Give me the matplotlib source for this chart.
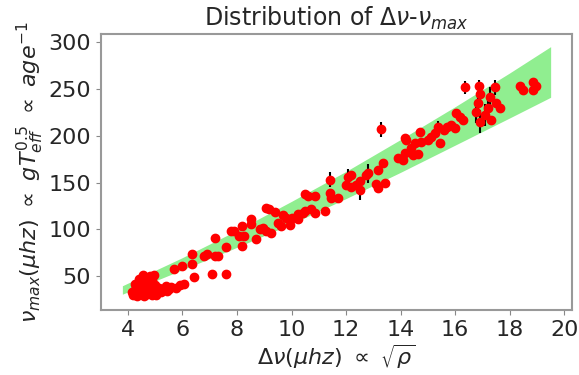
import matplotlib.pyplot as plt

# expected band
band_x = [3.8, 6, 8, 10, 12, 14, 16, 18, 19.5]
band_lo = [31, 57, 81, 106, 133, 161, 190, 219, 241]
band_hi = [40, 70, 99, 130, 162, 196, 231, 267, 295]

# measured stars: delta nu, nu_max and nu_max error
dnu = [
    4.15, 4.20, 4.25, 4.30, 4.30, 4.35, 4.40, 4.40, 4.45, 4.50,
    4.50, 4.55, 4.60, 4.60, 4.65, 4.70, 4.70, 4.75, 4.80, 4.80,
    4.85, 4.90, 4.95, 5.00, 5.00, 5.05, 4.40, 4.55, 4.25, 4.90,
    5.15, 5.30, 5.40, 5.50, 5.60, 5.75, 5.90, 6.05, 5.20, 5.45,
    5.68, 5.97, 6.34, 6.34, 6.41, 6.78, 6.90, 7.07, 7.20, 7.30,
    7.60, 7.20, 7.60, 7.77, 7.88, 8.17, 8.06, 8.24, 8.17, 8.53,
    8.53, 8.68, 8.86, 8.97, 9.08, 9.23, 9.08, 9.16, 9.41, 9.52,
    9.63, 9.70, 9.80, 9.96, 10.25, 10.43, 10.50,
    10.00, 10.25, 10.50, 10.73, 10.87, 11.24, 10.25, 10.62, 10.87, 11.42,
    11.46, 11.71, 11.42, 12.08, 12.19, 12.00, 12.19, 12.37, 12.52, 12.52,
    12.74, 12.80, 13.10, 13.18, 13.43, 13.18, 13.36, 13.29, 13.90, 14.09,
    14.16, 14.20, 14.38, 14.53,
    14.16, 14.70, 14.75, 14.64, 14.46, 15.00, 15.10, 15.26, 15.37, 15.44,
    15.60, 15.70, 15.85, 16.00, 16.03, 16.18, 16.28, 16.36, 16.87, 16.90,
    16.76, 16.90, 16.83, 17.45, 17.09, 17.20, 17.31, 17.50, 17.64, 17.27,
    18.37, 18.48, 18.84, 18.95, 18.84,
]
numax = [
    33, 30, 36, 32, 40, 29, 35, 43, 31, 38,
    46, 33, 29, 41, 48, 36, 31, 44, 50, 39,
    33, 46, 52, 41, 35, 30, 47, 51, 42, 30,
    38, 36, 40, 37, 39, 38, 41, 42, 33, 34,
    57.5, 61, 74, 63, 49, 72, 74, 53, 71.5, 72,
    53, 91, 81, 98.5, 98.5, 104, 93, 93, 82, 111,
    106, 90, 100.6, 101.7, 98.5, 96, 123, 122, 119, 107,
    104, 115, 112.5, 105, 115, 118, 138,
    112.5, 117, 120, 122, 118, 120, 111, 136, 136, 139,
    134, 134, 153, 155.6, 157.8, 147, 145, 147, 141.6, 152,
    158, 160, 149, 144, 150, 163, 170.7, 207, 176, 174,
    181.5, 195.5, 187, 192,
    197.6, 204, 193, 181, 179, 195.5, 198.7, 203, 209.5, 192,
    206, 209.5, 211.6, 208.4, 224.6, 220, 217, 251.5, 252.6, 244,
    225.6, 215, 235, 251.5, 222, 230, 217, 235, 230, 241.8,
    252.6, 249, 257, 252.6, 249,
]
numax_err = [
    1.5, 1.5, 1.5, 1.5, 1.5, 1.5, 1.5, 1.5, 1.5, 1.5,
    1.5, 1.5, 1.5, 1.5, 1.5, 1.5, 1.5, 1.5, 1.5, 1.5,
    1.5, 1.5, 1.5, 1.5, 1.5, 1.5, 1.5, 1.5, 1.5, 1.5,
    1.5, 1.5, 1.5, 1.5, 1.5, 1.5, 1.5, 1.5, 1.5, 1.5,
    2, 2, 2, 3, 2, 2, 2, 2, 2, 2,
    2, 2, 2, 2, 2, 2, 2, 2, 2, 2,
    2, 2, 2, 2, 2, 2, 2, 2, 2, 2,
    2, 2, 2, 2, 2, 2, 2,
    2, 2, 2, 2, 2, 2, 2, 2, 2, 2,
    2, 2, 8, 9, 2, 2, 2, 2, 10, 3,
    2, 10, 2, 2, 2, 2, 3, 8, 2, 2,
    2, 2, 2, 2,
    2, 2, 2, 2, 2, 3, 2, 2, 6, 2,
    2, 2, 2, 2, 2, 2, 2, 7, 7, 8,
    12, 12, 8, 8, 12, 10, 3, 3, 3, 10,
    2, 2, 2, 2, 2,
]

plt.rcParams['font.size'] = 16
fig = plt.figure(figsize=(5.79, 3.75), dpi=100)
ax = fig.add_axes([0.1744, 0.1733, 0.8136, 0.7357])

ax.fill_between(band_x, band_lo, band_hi, color='lightgreen', linewidth=0)
ax.errorbar(dnu, numax, yerr=numax_err, fmt='o', color='red', ecolor='black',
            markersize=6, elinewidth=1.5)

ax.set_title(r'Distribution of $\Delta\nu$-$\nu_{max}$', fontsize=17, color='#262626')
ax.set_xlabel(r'$\Delta\nu(\mu hz)$ $\propto$ $\sqrt{\rho}$', color='#262626', labelpad=2)
ax.set_ylabel(r'$\nu_{max}(\mu hz)$ $\propto$ $gT_{eff}^{0.5}$ $\propto$ $age^{-1}$',
              color='#262626', labelpad=2)
ax.set_xticks([4, 6, 8, 10, 12, 14, 16, 18, 20])
ax.set_yticks([50, 100, 150, 200, 250, 300])
ax.tick_params(colors='#262626', labelsize=16)
ax.tick_params(color='#888888')
for s in ax.spines.values():
    s.set_color('#999999')
    s.set_linewidth(1.5)

fig.savefig('out.png')
